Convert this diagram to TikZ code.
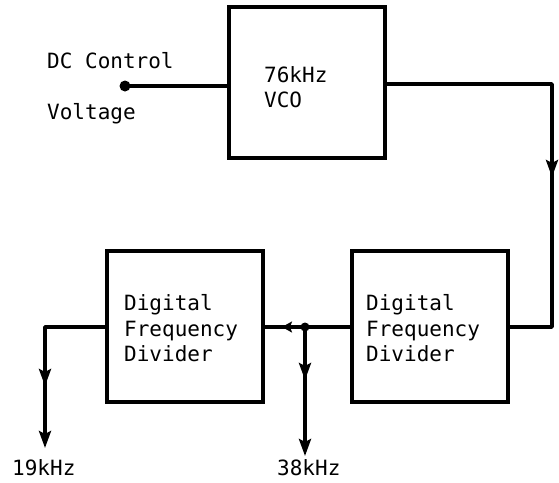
\documentclass[tikz,border=0pt]{standalone}
\usepackage{fontspec}
\newfontfamily\labfont{DejaVu Sans Mono}
\usetikzlibrary{arrows.meta}
\begin{document}
\begin{tikzpicture}[x=1pt,y=-1pt,
  wire/.style={line width=3.4pt, line join=round},
  block/.style={draw, rectangle, line width=3.4pt, inner sep=0pt,
    minimum width=156pt, minimum height=151pt},
  lbl/.style={anchor=base west, inner sep=0pt, font=\labfont\fontsize{21}{24}\selectfont},
  bigtip/.style={-{Stealth[length=17pt,width=12pt,inset=3pt]}},
  smalltip/.style={-{Stealth[length=10pt,width=11pt,inset=2pt]}}]
\useasboundingbox (0,0) rectangle (559,482);
% blocks
\node[block] (vco) at (307,82.5) {};
\node[block] (div1) at (185,326.5) {};
\node[block] (div2) at (430,326.5) {};
% texts
\node[lbl] (tdc) at (47,68) {DC Control};
\node[lbl] (tvolt) at (47,119) {Voltage};
\node[lbl] (tvco1) at (264,82) {76kHz};
\node[lbl] (tvco2) at (264,107) {VCO};
\node[lbl] (tl1) at (124,310) {Digital};
\node[lbl] (tl2) at (124,336) {Frequency};
\node[lbl] (tl3) at (124,361) {Divider};
\node[lbl] (tr1) at (366,310) {Digital};
\node[lbl] (tr2) at (366,336) {Frequency};
\node[lbl] (tr3) at (366,361) {Divider};
\node[lbl] (t19) at (12,475) {19kHz};
\node[lbl] (t38) at (277,475) {38kHz};
% input
\coordinate (in) at (125,86);
\draw[wire] (in) -- (vco.west |- in);
\fill (in) circle (5.5pt);
% VCO to divider 2
\coordinate (c1) at (552,84);
\coordinate (m1) at (552,177);
\coordinate (c2) at (552,327);
\draw[wire] (vco.east |- c1) -- (c1) -- (c2) -- (div2.east |- c2);
\draw[wire,bigtip] (c1) -- (m1);
% divider 2 to divider 1
\coordinate (j) at (305,327);
\coordinate (a1) at (282,327);
\draw[wire] (div2.west |- j) -- (div1.east |- j);
\draw[wire,smalltip] (j) -- (a1);
\fill (j) circle (4.5pt);
% 38 kHz output
\coordinate (m2) at (305,380);
\coordinate (e2) at (305,456);
\draw[wire] (j) -- (m2);
\draw[wire,bigtip] (j) -- (m2);
\draw[wire,bigtip] (m2) -- (e2);
% 19 kHz output
\coordinate (c3) at (45,327);
\coordinate (m3) at (45,386);
\coordinate (e3) at (45,448);
\draw[wire] (div1.west |- c3) -- (c3) -- (m3);
\draw[wire,bigtip] (c3) -- (m3);
\draw[wire,bigtip] (m3) -- (e3);
\end{tikzpicture}
\end{document}
